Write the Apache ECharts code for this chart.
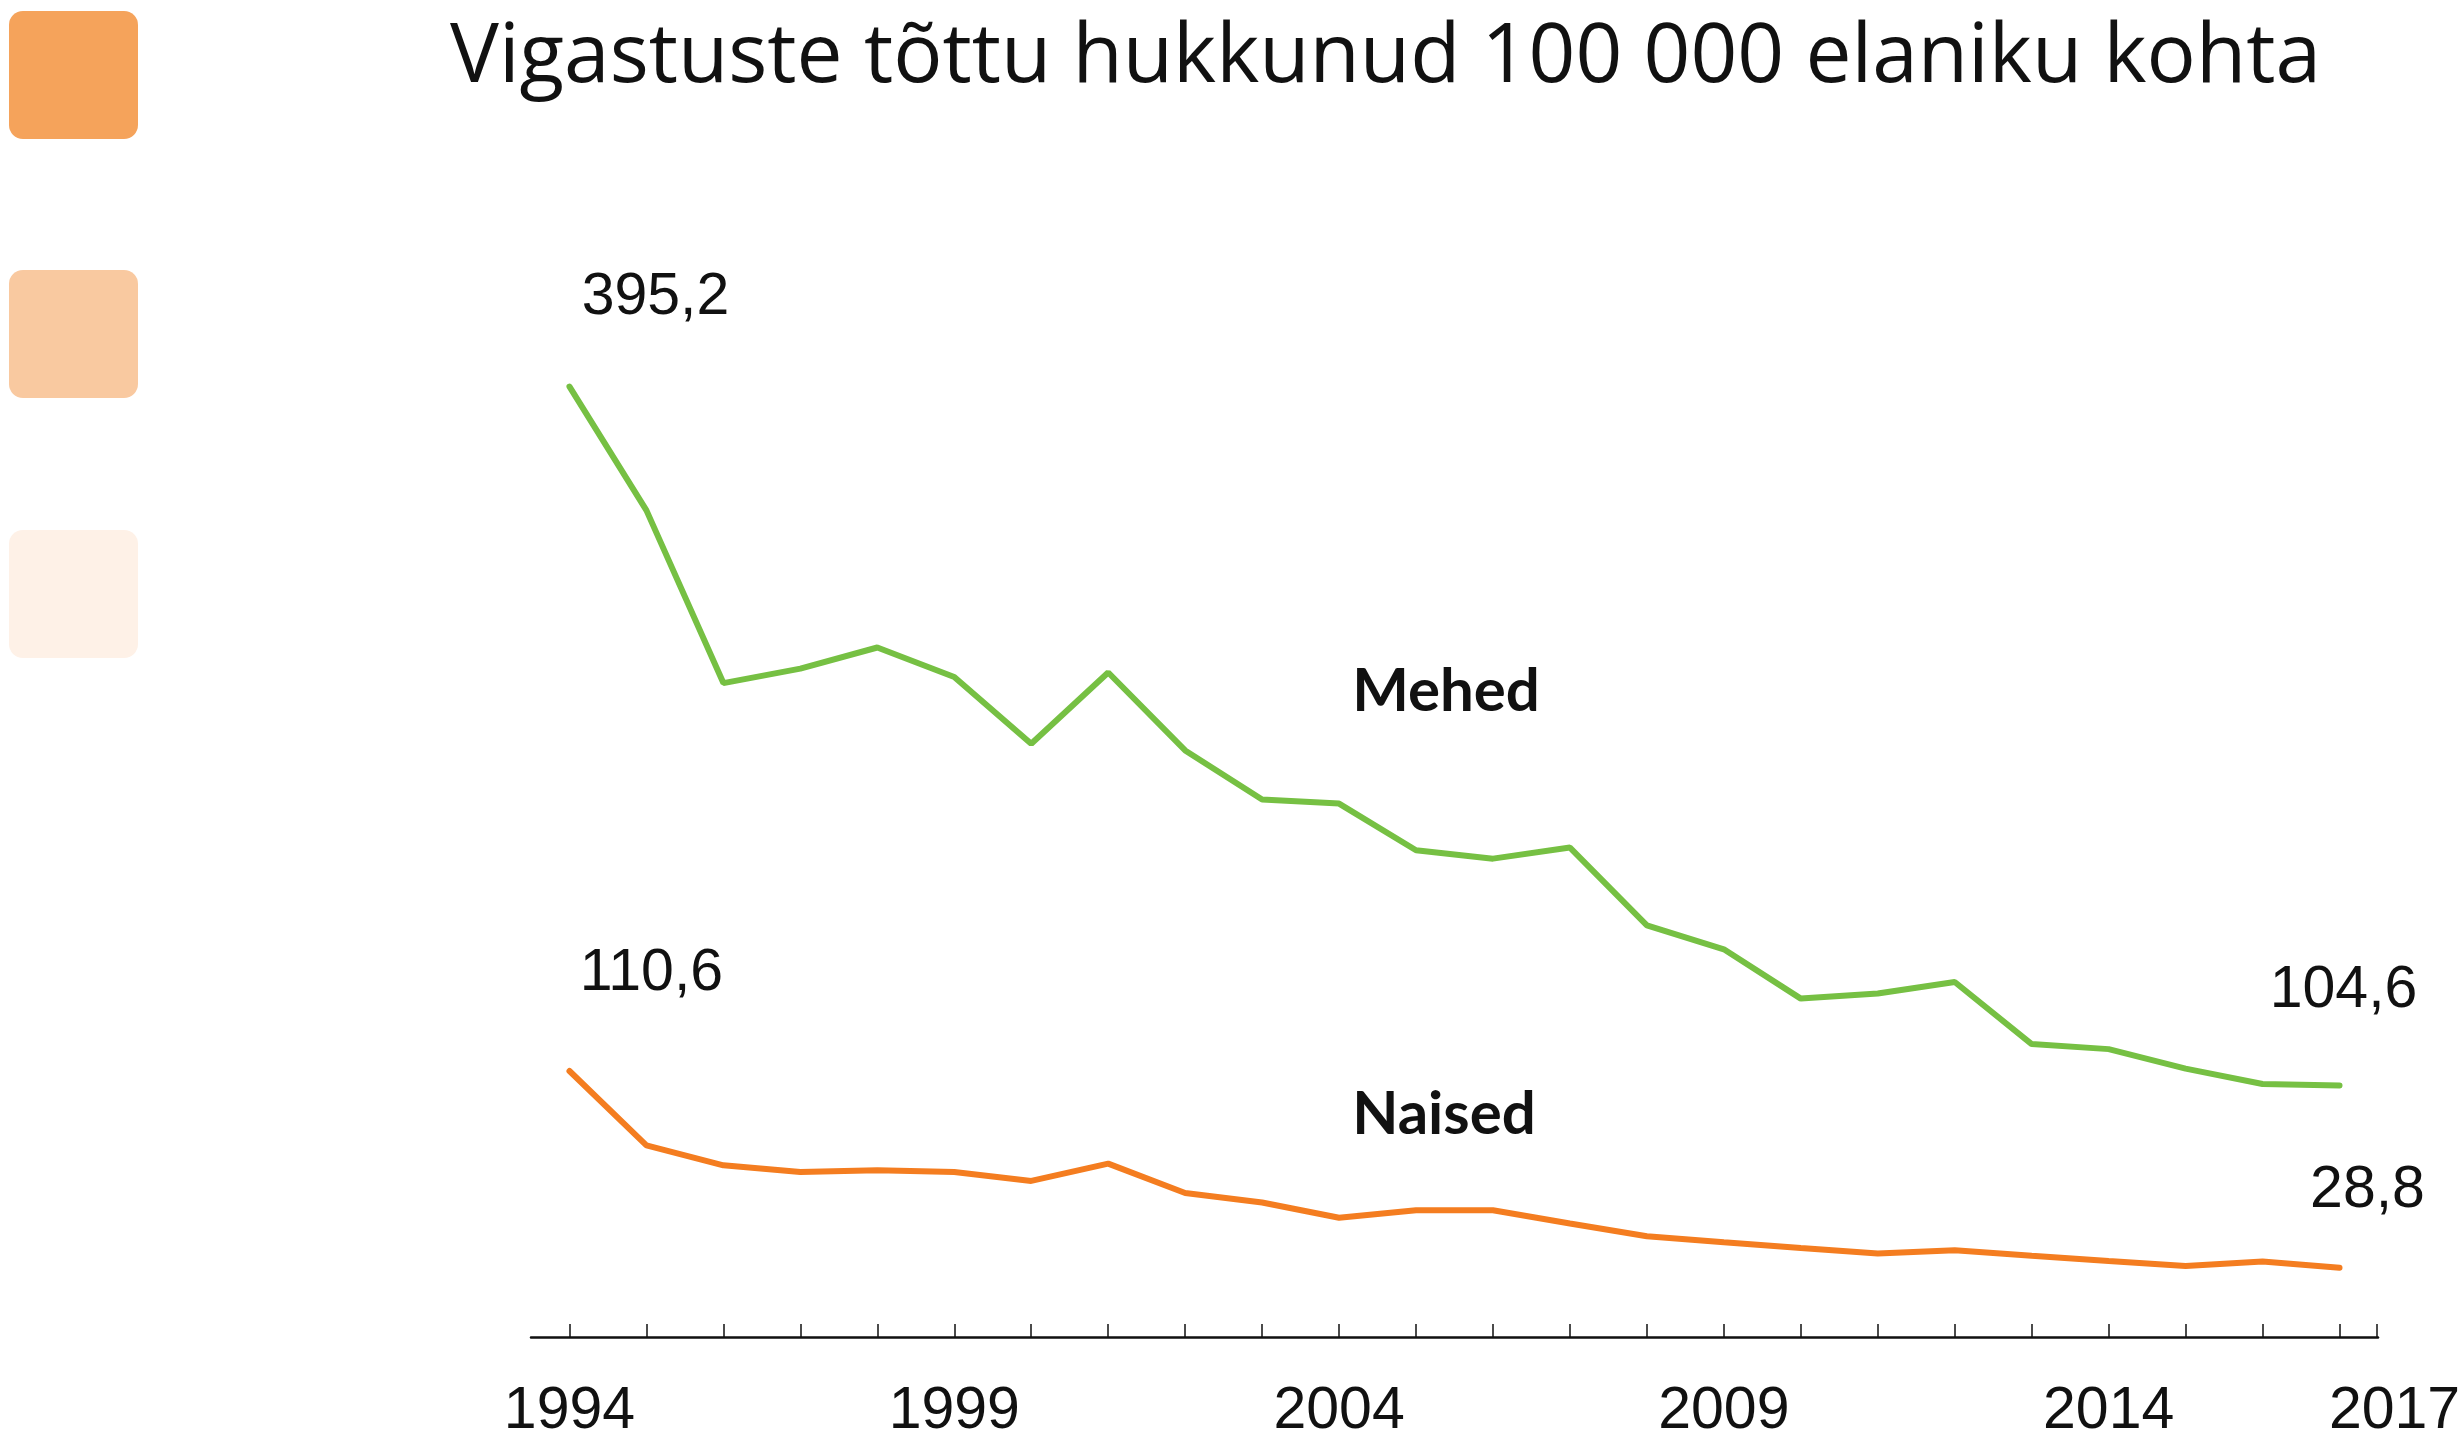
<!DOCTYPE html>
<html>
<head>
<meta charset="utf-8">
<script src="https://cdn.jsdelivr.net/npm/echarts@6/dist/echarts.min.js"></script>
<style>
html,body{margin:0;padding:0;background:#fff;}
#chart{width:2464px;height:1435px;}
</style>
</head>
<body>
<div id="chart"></div>
<script>
const years = ['1994','1995','1996','1997','1998','1999','2000','2001','2002','2003','2004','2005','2006','2007','2008','2009','2010','2011','2012','2013','2014','2015','2016','2017'];
const mehed = [395.2, 343.7, 271.9, 277.9, 286.7, 274.4, 246.7, 276.3, 243.9, 223.5, 221.8, 202.4, 198.9, 203.5, 171.2, 161.2, 140.7, 142.8, 147.6, 121.8, 119.7, 111.6, 105.2, 104.6];
const naised = [110.6, 79.7, 71.4, 68.6, 69.3, 68.6, 64.9, 72.1, 59.9, 55.9, 49.6, 52.7, 52.7, 47.2, 41.9, 39.4, 37.0, 34.7, 36.1, 33.8, 31.6, 29.5, 31.4, 28.8];
const titleText = 'Vigastuste tõttu hukkunud 100 000 elaniku kohta';
const seriesNames = ['Mehed', 'Naised'];

const numFont = "'Liberation Sans', Arial, sans-serif";
const fmt = v => String(v.toFixed(1)).replace('.', ',');

function withLabels(arr, firstOffset, lastOffset) {
  return arr.map((v, i) => {
    if (i === 0 || i === arr.length - 1) {
      return {
        value: v,
        label: {
          show: true,
          position: 'inside',
          offset: i === 0 ? firstOffset : lastOffset,
          formatter: fmt(v),
          color: '#111',
          fontSize: 59,
          fontFamily: numFont,
          align: 'center',
          verticalAlign: 'middle'
        }
      };
    }
    return v;
  });
}

const chart = echarts.init(document.getElementById('chart'), null, {renderer: 'canvas'});
chart.setOption({
  animation: false,
  backgroundColor: '#fff',
  title: {
    text: titleText,
    left: 445,
    top: 13,
    textStyle: {fontFamily: "'Open Sans', sans-serif", fontSize: 82, fontWeight: 'normal', color: '#111'}
  },
  grid: {left: 531, right: 86, top: 375, bottom: 98, containLabel: false, outerBoundsMode: 'none'},
  xAxis: {
    type: 'category',
    data: years,
    boundaryGap: true,
    axisLine: {show: true, onZero: false, lineStyle: {color: '#111', width: 2.5}},
    axisTick: {show: true, inside: true, length: 13, alignWithLabel: true, interval: 0, lineStyle: {color: '#111', width: 1.5}},
    axisLabel: {
      interval: (idx) => idx % 5 === 0 || idx === years.length - 1,
      margin: 45,
      fontSize: 59,
      fontFamily: numFont,
      color: '#111',
      hideOverlap: false,
      formatter: (val) => val === years[years.length - 1] ? '{s|' + val + '}' : val,
      rich: {s: {fontSize: 59, fontFamily: numFont, color: '#111', padding: [0, 0, 0, 110]}}
    },
    splitLine: {show: false}
  },
  yAxis: {type: 'value', min: 0, max: 400, show: false, splitLine: {show: false}},
  series: [
    {
      name: seriesNames[0],
      type: 'line',
      data: withLabels(mehed, [86, -89], [4, -95]),
      symbol: 'circle',
      symbolSize: 1,
      showSymbol: true,
      showAllSymbol: true,
      itemStyle: {color: 'rgba(0,0,0,0)'},
      lineStyle: {color: '#76C043', width: 6, cap: 'round'}
    },
    {
      name: seriesNames[1],
      type: 'line',
      data: withLabels(naised, [82, -97], [28, -77]),
      symbol: 'circle',
      symbolSize: 1,
      showSymbol: true,
      showAllSymbol: true,
      itemStyle: {color: 'rgba(0,0,0,0)'},
      lineStyle: {color: '#F47D20', width: 6, cap: 'round'}
    }
  ],
  graphic: [
    {type: 'rect', left: 9, top: 11, shape: {width: 129, height: 128, r: 14}, style: {fill: '#F5A35B'}},
    {type: 'rect', left: 9, top: 270, shape: {width: 129, height: 128, r: 14}, style: {fill: '#F9C9A0'}},
    {type: 'rect', left: 9, top: 530, shape: {width: 129, height: 128, r: 14}, style: {fill: '#FEF1E7'}},
    {type: 'line', shape: {x1: 2377, y1: 1324, x2: 2377, y2: 1337}, style: {stroke: '#111', lineWidth: 1.5}},
    {type: 'text', x: 1446, y: 692, style: {text: seriesNames[0], fill: '#111', font: "bold 60px Lato, 'Open Sans', sans-serif", align: 'center', verticalAlign: 'middle'}},
    {type: 'text', x: 1444, y: 1115, style: {text: seriesNames[1], fill: '#111', font: "bold 60px Lato, 'Open Sans', sans-serif", align: 'center', verticalAlign: 'middle'}}
  ]
});
</script>
</body>
</html>
